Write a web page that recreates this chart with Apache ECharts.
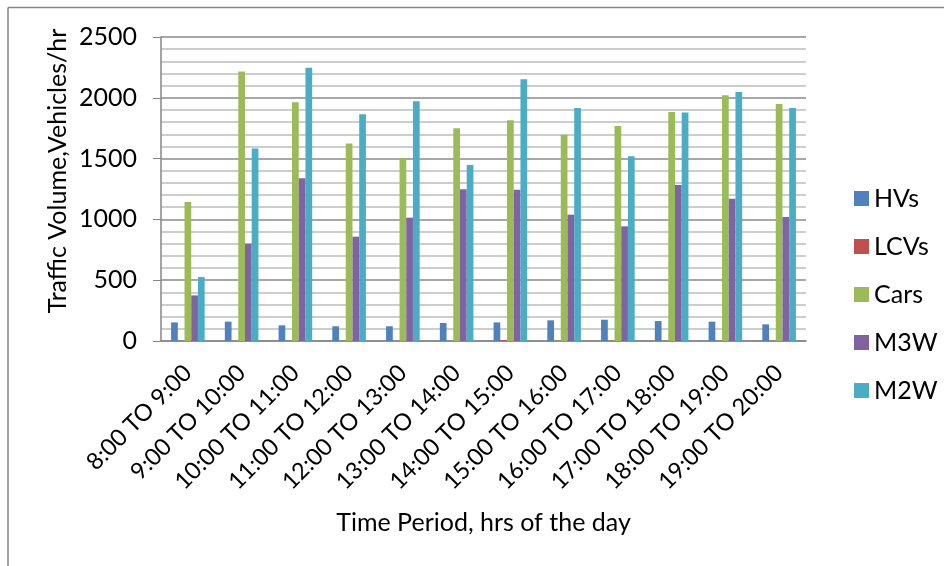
<!DOCTYPE html>
<html>
<head>
<meta charset="utf-8">
<script src="https://cdn.jsdelivr.net/npm/echarts@6/dist/echarts.min.js"></script>
<style>
html,body{margin:0;padding:0;background:#fff;}
#c{width:944px;height:566px;}
</style>
</head>
<body>
<div id="c"></div>
<script>
const categories = ['8:00 TO 9:00','9:00 TO 10:00','10:00 TO 11:00','11:00 TO 12:00','12:00 TO 13:00','13:00 TO 14:00','14:00 TO 15:00','15:00 TO 16:00','16:00 TO 17:00','17:00 TO 18:00','18:00 TO 19:00','19:00 TO 20:00'];
const seriesNames = ['HVs','LCVs','Cars','M3W','M2W'];
const hvs  = [153, 159, 129, 121, 121, 148, 153, 170, 175, 164, 159, 137];
const lcvs = [0, 0, 0, 0, 0, 0, 8, 0, 0, 0, 0, 0];
const cars = [1143, 2217, 1963, 1625, 1505, 1749, 1815, 1697, 1768, 1883, 2020, 1949];
const m3w  = [375, 800, 1338, 858, 1014, 1247, 1244, 1039, 943, 1283, 1170, 1020];
const m2w  = [526, 1584, 2248, 1864, 1971, 1447, 2152, 1916, 1519, 1880, 2048, 1916];
const yTicks = [0, 500, 1000, 1500, 2000, 2500];
const colors = ['#4F81BD','#C0504D','#9BBB59','#8064A2','#4BACC6'];
const values = [hvs, lcvs, cars, m3w, m2w];

const FONT = 'Lato';
const FS = 25;
const chart = echarts.init(document.getElementById('c'));
chart.setOption({
  animation: false,
  color: colors,
  textStyle: {fontFamily: FONT, color: '#000'},
  grid: {left: 161, right: 138, top: 37, bottom: 225, containLabel: false},
  legend: {
    orient: 'vertical', left: 849, top: 181,
    itemWidth: 15, itemHeight: 15, itemGap: 23,
    icon: 'rect',
    textStyle: {fontFamily: FONT, fontSize: FS, color: '#000', lineHeight: 25},
    data: seriesNames
  },
  xAxis: {
    type: 'category', data: categories,
    axisLine: {lineStyle: {color: '#868686', width: 1.5}},
    axisTick: {show: false},
    axisLabel: {rotate: 45, fontSize: 23.5, fontFamily: FONT, color: '#000', margin: 28, interval: 0}
  },
  yAxis: {
    type: 'value', min: yTicks[0], max: yTicks[yTicks.length-1], interval: 500,
    axisLine: {show: true, lineStyle: {color: '#868686', width: 1.5}},
    axisTick: {show: true, length: 8, lineStyle: {color: '#868686'}},
    axisLabel: {fontSize: FS, fontFamily: FONT, color: '#000', margin: 24, formatter: v => String(v)},
    splitLine: {lineStyle: {color: '#8a8a8a', width: 1.5}},
    minorTick: {show: false, splitNumber: 5},
    minorSplitLine: {show: true, lineStyle: {color: '#bdbdbd', width: 1.5}}
  },
  series: seriesNames.map((n, i) => ({
    name: n, type: 'bar', data: values[i],
    barGap: '0%', barCategoryGap: '37.5%',
    itemStyle: {color: colors[i]}
  })),
  graphic: [
    {type: 'line', shape: {x1: 8, y1: 7.5, x2: 944, y2: 7.5}, style: {stroke: '#868686', lineWidth: 1.5}},
    {type: 'line', shape: {x1: 8, y1: 7.5, x2: 8, y2: 566}, style: {stroke: '#868686', lineWidth: 1.5}},
    {type: 'text', x: 58, y: 171, rotation: Math.PI/2,
      style: {text: 'Traffic Volume,Vehicles/hr', font: FS + 'px Lato', fill: '#000', textAlign: 'center', textVerticalAlign: 'middle'}},
    {type: 'text', x: 483.5, y: 523,
      style: {text: 'Time Period, hrs of the day', font: FS + 'px Lato', fill: '#000', textAlign: 'center', textVerticalAlign: 'middle'}}
  ]
});
</script>
</body>
</html>
